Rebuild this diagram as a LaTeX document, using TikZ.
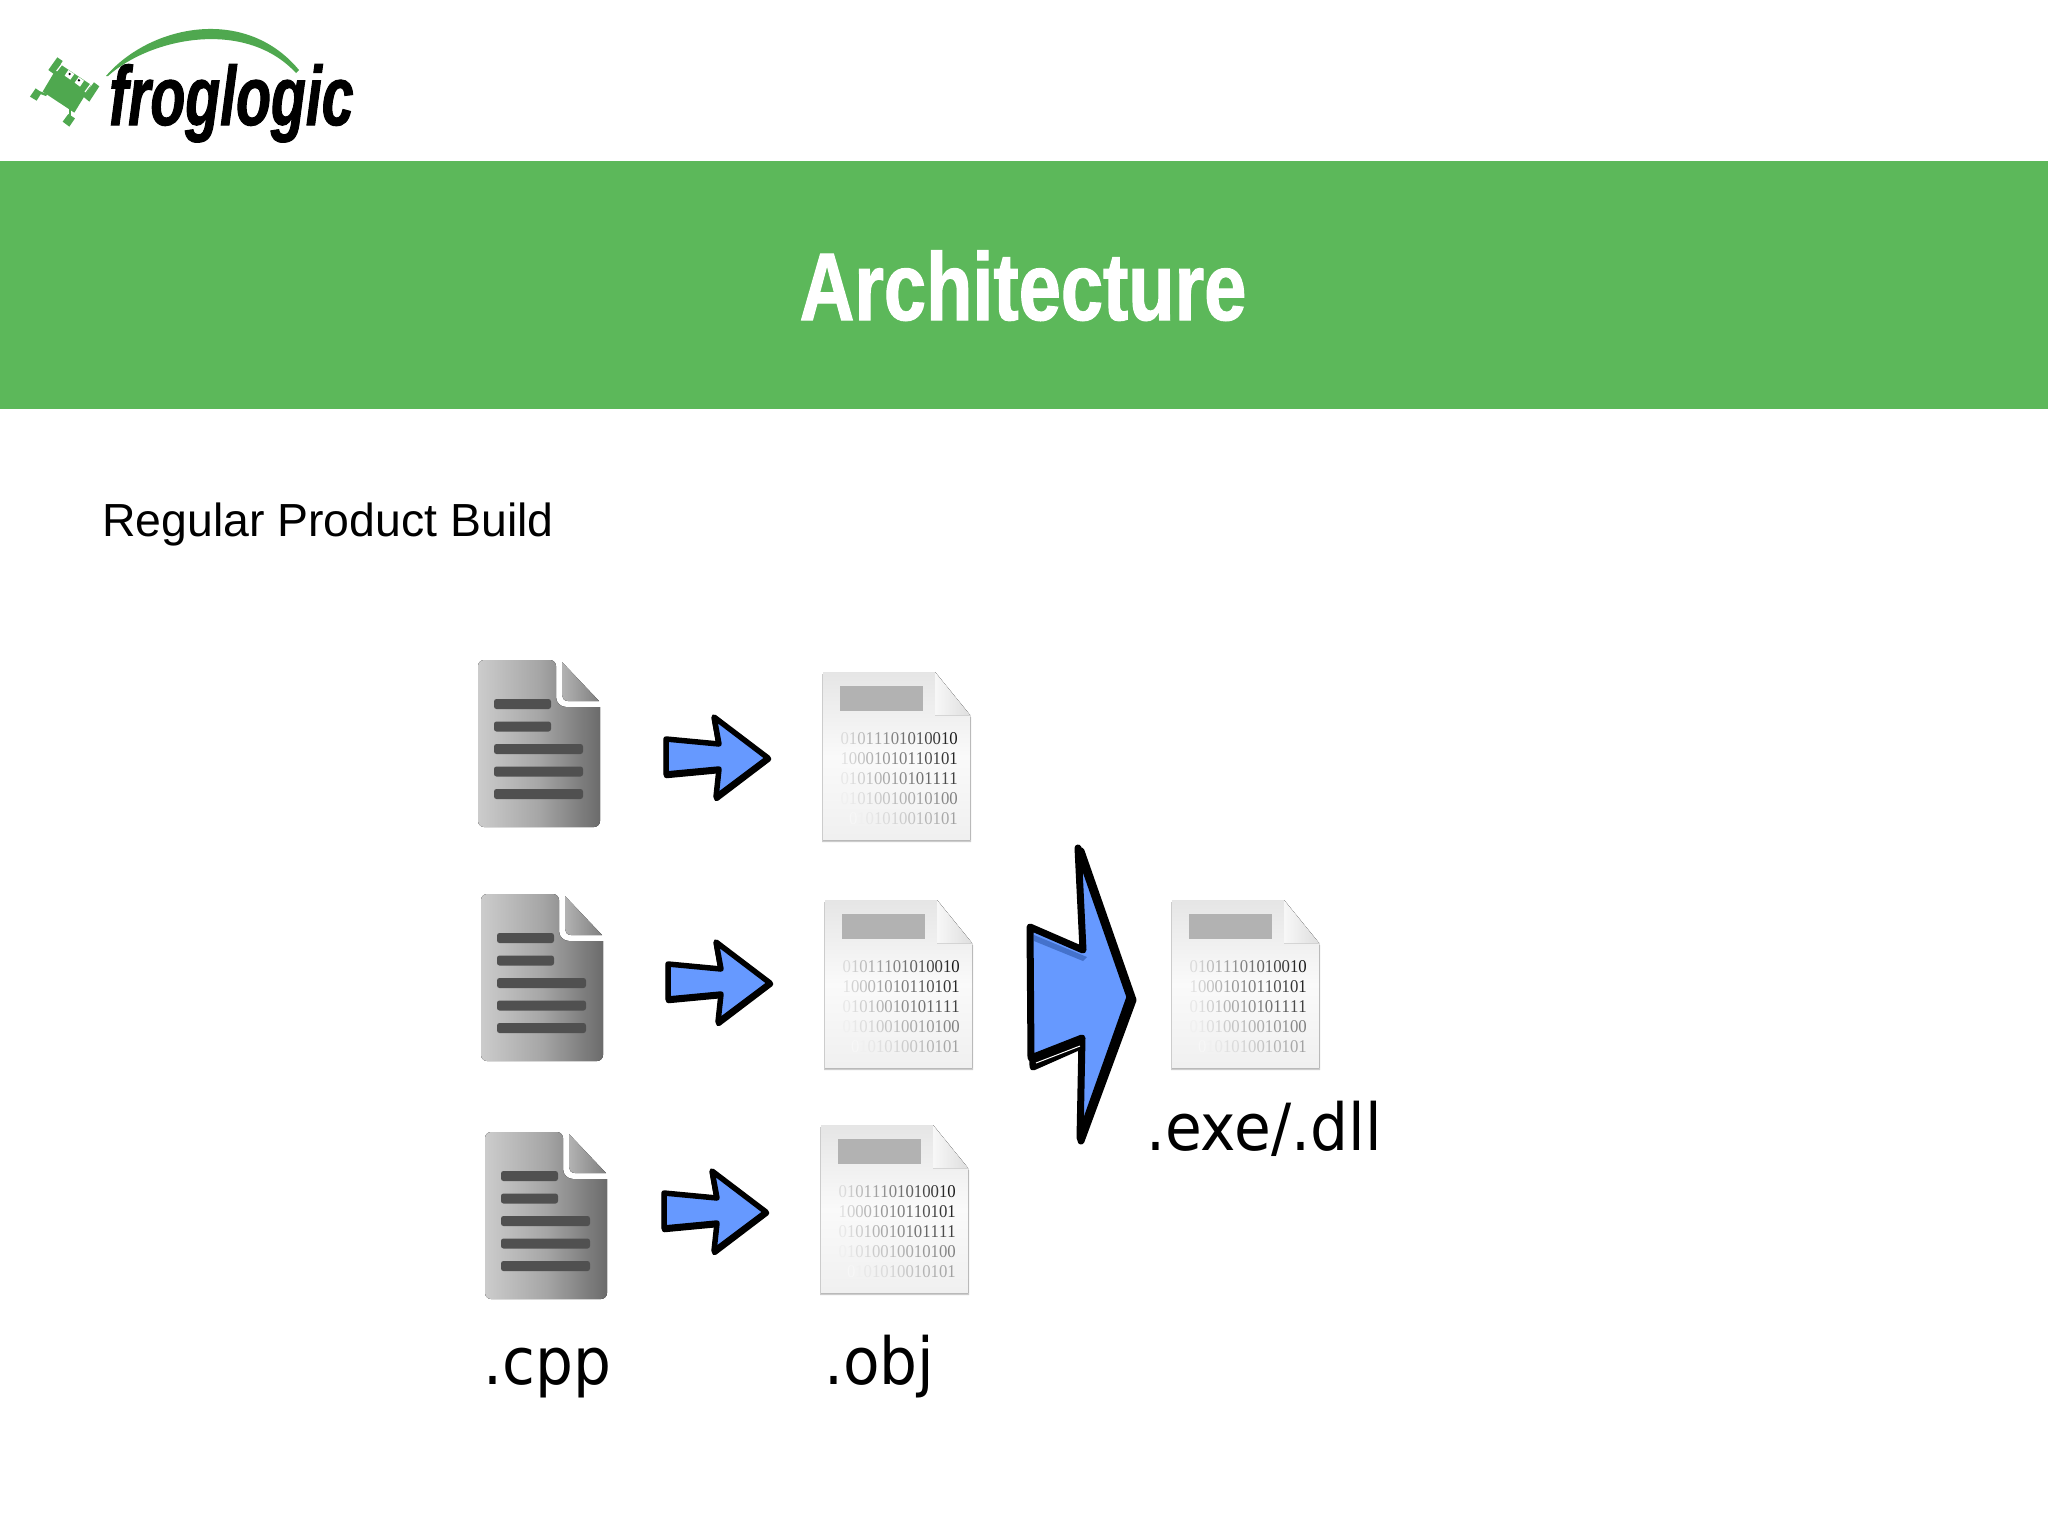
\documentclass[tikz,border=0pt]{standalone}
\usepackage{fontspec}
\setmainfont{Liberation Sans}
\newfontfamily\titlefont{Liberation Sans}[FakeStretch=0.79,FakeBold=1.2]
\newfontfamily\logofont{Liberation Sans}[FakeStretch=0.68,FakeBold=1.2]
\newfontfamily\labelfont{DejaVu Sans}[FakeStretch=0.92]
\newfontfamily\bitfont{Liberation Serif}[FakeStretch=0.93]
\definecolor{bannergreen}{HTML}{5CB85A}
\definecolor{froggreen}{HTML}{4FA84F}
\definecolor{arrowblue}{HTML}{6699FF}
\definecolor{arrowshade}{HTML}{4472CC}
\definecolor{srcline}{HTML}{505050}
\newcount\bitn
\def\bitrow#1#2#3{\bitn=0 \def\bitlo{#1}\def\bithi{#2}\bitloop#3\relax}
\def\bitloop#1{\ifx#1\relax\else{\color{black!\the\numexpr\bitlo+(\bithi-\bitlo)*\bitn/13\relax}#1}\global\advance\bitn by 1 \expandafter\bitloop\fi}
\tikzset{
  x=1pt,y=-1pt,
  lbl/.style={font=\fontsize{65}{65}\selectfont\labelfont,inner sep=0pt,anchor=base west,text=black},
  bitline/.style={font=\fontsize{18}{18}\selectfont\bitfont,inner sep=0pt,anchor=base east},
  arrowline/.style={draw=black,line width=5.5pt,line join=round,fill=arrowblue},
  srcbar/.style={fill=srcline,rounded corners=2.5pt},
  pics/srcdoc/.style={code={
    \fill[left color=black!20,right color=black!58,middle color=black!35,rounded corners=6pt]
      (0,0) -- (78,0) [sharp corners] -- (78,37) .. controls (78,43) and (83,47) .. (88,47) -- (122,47) [rounded corners=6pt] -- (122,167) -- (0,167) -- cycle;
    \fill[left color=black!30,right color=black!50] (84,2) -- (121,41) -- (90,41) .. controls (86,41) and (84,38) .. (84,35) -- cycle;
    \fill[srcbar] (16,39) rectangle (73,49);
    \fill[srcbar] (16,61.5) rectangle (73,71.5);
    \fill[srcbar] (16,84) rectangle (105,94);
    \fill[srcbar] (16,106.5) rectangle (105,116.5);
    \fill[srcbar] (16,129) rectangle (105,139);
  }},
  pics/objdoc/.style={code={
    \fill[black!20] (-1,2) -- (-1,170) -- (148,170) -- (148,45) -- cycle;
    \fill[top color=black!10,bottom color=black!6,middle color=black!2]
      (0,0) -- (112,0) -- (147,43) -- (147,168) -- (0,168) -- cycle;
    \fill[left color=black!3,right color=black!13] (112,0) -- (147,43) -- (112,43) -- cycle;
    \fill[black!30] (17,14) rectangle (100,39);
    \node[bitline] at (135,72) {\bitrow{14}{90}{01011101010010}};
    \node[bitline] at (135,92) {\bitrow{12}{85}{10001010110101}};
    \node[bitline] at (135,112) {\bitrow{9}{75}{01010010101111}};
    \node[bitline] at (135,132) {\bitrow{6}{50}{01010010010100}};
    \node[bitline] at (135,152) {\bitrow{3}{40}{0101010010101}};
  }},
  pics/smallarrow/.style={code={
    \path[draw=black,line width=5.5pt,line join=round,fill=black] (0.5,1.5) -- (53,6.5) -- (48.5,-20) -- (102.5,20) -- (50.5,59.5) -- (53.5,31.5) -- (0.5,36.5) -- cycle;
    \path[arrowline] (0,0) -- (53,5) -- (48,-22) -- (102,19) -- (50,58) -- (53,30) -- (0,35) -- cycle;
  }}
}
\begin{document}
\begin{tikzpicture}
\useasboundingbox (0,0) rectangle (2048,1535);
\fill[white] (0,0) rectangle (2048,1535);
% logo
\fill[froggreen] (106,76) .. controls (150,25) and (245,5) .. (299,70) -- (296,73) .. controls (245,18) and (150,38) .. (108,76) -- cycle;
\begin{scope}[shift={(20,45)},scale=0.3333]
  \fill[froggreen] (118,56) -- (214,120) -- (163,203) -- (68,140) -- cycle;
  \fill[froggreen] (112,37) -- (128,48) -- (103,88) -- (85,75) -- cycle;
  \fill[froggreen] (222,112) -- (238,124) -- (208,170) -- (190,155) -- cycle;
  \fill[froggreen] (47,130) -- (65,143) -- (50,167) -- (30,155) -- cycle;
  \draw[froggreen,line width=2.4pt] (52,140) -- (80,150);
  \fill[froggreen] (145,207) -- (165,220) -- (148,245) -- (128,230) -- cycle;
  \draw[froggreen,line width=2.4pt] (150,190) -- (150,215);
  \draw[white,line width=1.2pt] (110,78) -- (128,55);
  \draw[white,line width=1.2pt] (195,141) -- (214,115);
  \fill[white] (145,75) -- (163,87) -- (151,104) -- (134,92) -- cycle;
  \fill[white] (176,96) -- (192,107) -- (180,125) -- (164,113) -- cycle;
  \fill[black] (149,87) circle (4);
  \fill[black] (177,106) circle (4);
\end{scope}
\node[font=\fontsize{84}{84}\selectfont\logofont\bfseries\itshape,inner sep=0pt,anchor=base west] (logo) at (109,125) {froglogic};
% banner
\fill[bannergreen] (0,161) rectangle (2048,409);
\node[font=\fontsize{96}{96}\selectfont\titlefont\bfseries,text=white,inner sep=0pt,anchor=base] (title) at (1023,320) {Architecture};
\node[font=\fontsize{46.4}{46.4}\selectfont,inner sep=0pt,anchor=base west] (sub) at (102,536) {Regular Product Build};
% source docs
\pic at (478,660) {srcdoc};
\pic at (481,894) {srcdoc};
\pic at (485,1132) {srcdoc};
% object docs
\pic at (823,672) {objdoc};
\pic at (825,900) {objdoc};
\pic at (821,1125) {objdoc};
\pic at (1172,900) {objdoc};
% arrows
\pic at (666,739) {smallarrow};
\pic at (668,964) {smallarrow};
\pic at (664,1193) {smallarrow};
% bolt
\path[draw=black,line width=7pt,line join=round,fill=black] (1081,851) -- (1133,1000) -- (1081,1141) -- (1085,1044) -- (1033,1067) -- (1032,930) -- (1085,953) -- cycle;
\path[draw=black,line width=7pt,line join=round,fill=arrowblue] (1078,848) -- (1130,997) -- (1080,1138) -- (1082,1038) -- (1031,1058) -- (1030,927) -- (1083,950) -- cycle;
\fill[arrowshade] (1034,935) -- (1087,957) -- (1083,961) -- (1034,941) -- cycle;
\draw[white,line width=1pt] (1036,1063) -- (1080,1046);
% labels
\node[lbl] (cpp) at (483,1384) {.cpp};
\node[lbl] (obj) at (824,1384) {.obj};
\node[lbl] (exe) at (1146,1150) {.exe/.dll};
\end{tikzpicture}
\end{document}
